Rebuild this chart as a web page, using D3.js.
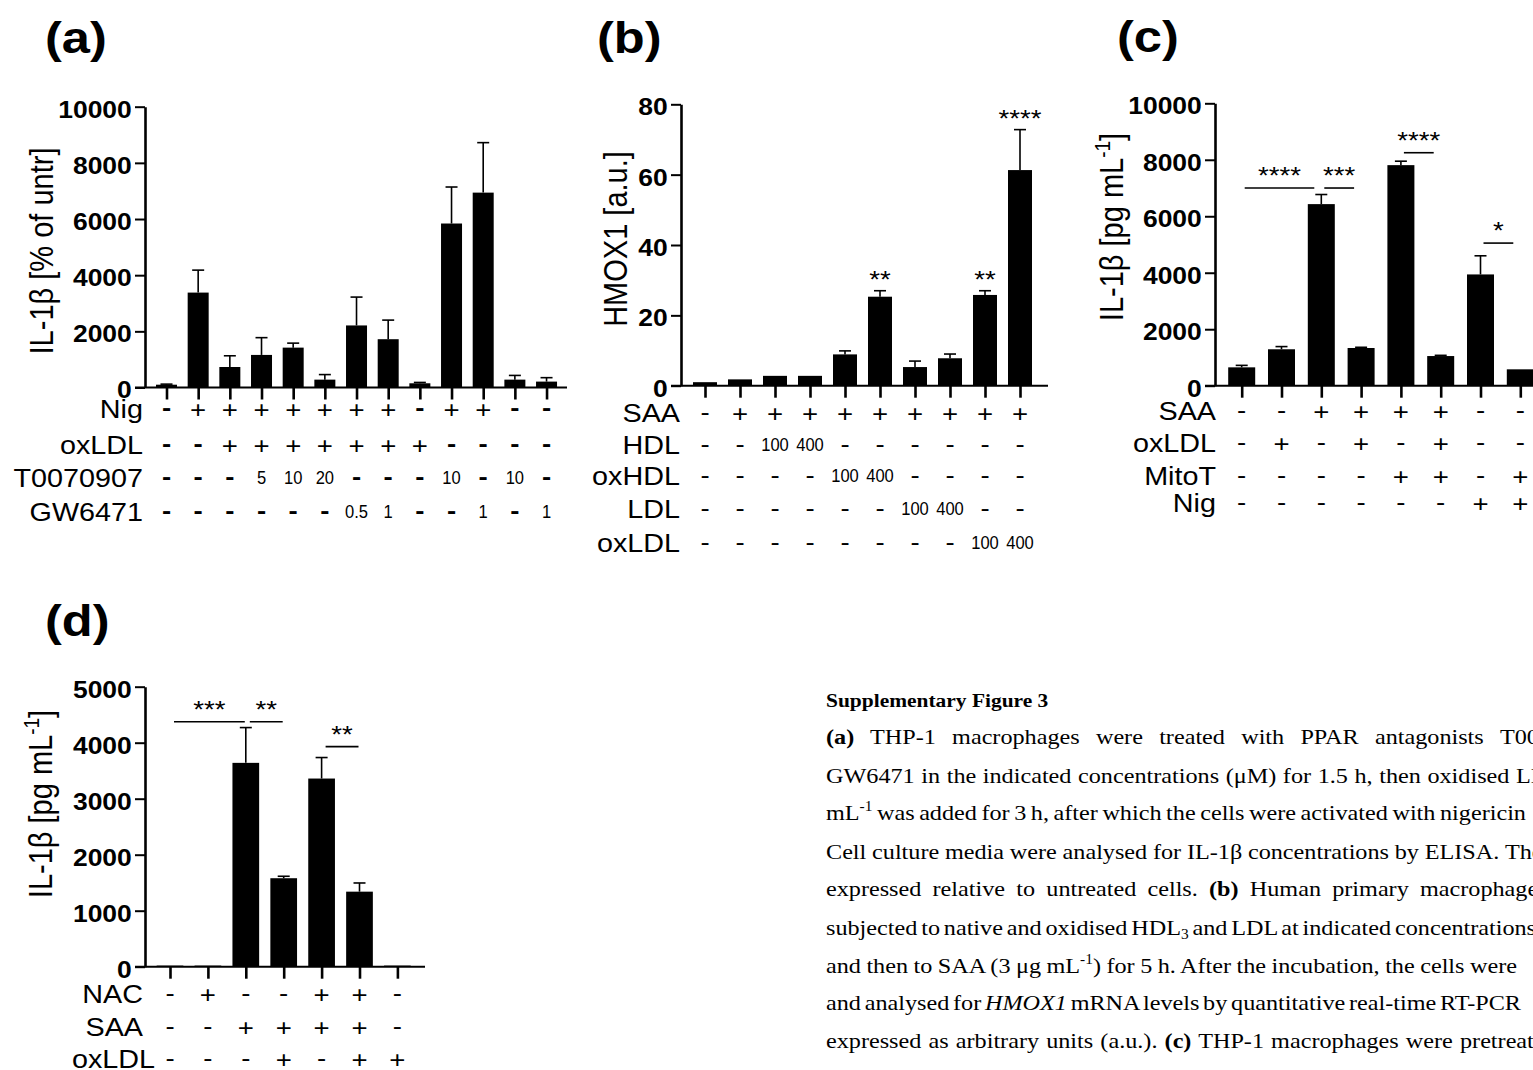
<!DOCTYPE html>
<html>
<head>
<meta charset="utf-8">
<script src="https://cdn.jsdelivr.net/npm/d3@7"></script>
<style>
  html, body { margin: 0; padding: 0; background: #fff; }
  svg { display: block; }
  text { white-space: pre; }
</style>
</head>
<body>
<svg id="fig" width="1533" height="1070"></svg>
<script>
/* global d3 */

// (a) IL-1b, % of untreated
const aMean = [100, 3380, 730, 1160, 1420, 280, 2210, 1720, 150, 5840, 6940, 280, 210]
const aErr = [20, 800, 400, 615, 160, 180, 1010, 680, 30, 1300, 1780, 150, 140]
const aTicks = [0, 2000, 4000, 6000, 8000, 10000]
const aRowNames = ['Nig', 'oxLDL', 'T0070907', 'GW6471']
const aRowMarks = [
  ['-', '+', '+', '+', '+', '+', '+', '+', '-', '+', '+', '-', '-'],
  ['-', '-', '+', '+', '+', '+', '+', '+', '+', '-', '-', '-', '-'],
  ['-', '-', '-', '5', '10', '20', '-', '-', '-', '10', '-', '10', '-'],
  ['-', '-', '-', '-', '-', '-', '0.5', '1', '-', '-', '1', '-', '1']
]

// (b) HMOX1 a.u.
const bMean = [1, 1.8, 2.8, 2.8, 8.9, 25.3, 5.3, 7.8, 25.8, 61.3]
const bErr = [0, 0, 0, 0, 1.0, 1.7, 1.7, 1.2, 1.2, 11.5]
const bTicks = [0, 20, 40, 60, 80]
const bRowNames = ['SAA', 'HDL', 'oxHDL', 'LDL', 'oxLDL']
const bRowMarks = [
  ['-', '+', '+', '+', '+', '+', '+', '+', '+', '+'],
  ['-', '-', '100', '400', '-', '-', '-', '-', '-', '-'],
  ['-', '-', '-', '-', '100', '400', '-', '-', '-', '-'],
  ['-', '-', '-', '-', '-', '-', '100', '400', '-', '-'],
  ['-', '-', '-', '-', '-', '-', '-', '-', '100', '400']
]
const bStars = [{ bar: 5, label: '**' }, { bar: 8, label: '**' }, { bar: 9, label: '****' }]

// (c) IL-1b pg/mL
const cMean = [650, 1290, 6430, 1335, 7810, 1050, 3940, 580]
const cErr = [70, 95, 340, 25, 140, 25, 660, 0]
const cTicks = [0, 2000, 4000, 6000, 8000, 10000]
const cRowNames = ['SAA', 'oxLDL', 'MitoT', 'Nig']
const cRowMarks = [
  ['-', '-', '+', '+', '+', '+', '-', '-'],
  ['-', '+', '-', '+', '-', '+', '-', '-'],
  ['-', '-', '-', '-', '+', '+', '-', '+'],
  ['-', '-', '-', '-', '-', '-', '+', '+']
]
const cSig = [
  { from: 0, to: 2, at: 7000, label: '****' },
  { from: 2, to: 3, at: 7000, label: '***' },
  { from: 4, to: 5, at: 8250, label: '****' },
  { from: 6, to: 7, at: 5050, label: '*' }
]

// (d) IL-1b pg/mL
const dMean = [20, 20, 3640, 1580, 3360, 1340, 20]
const dErr = [0, 0, 630, 35, 375, 155, 0]
const dTicks = [0, 1000, 2000, 3000, 4000, 5000]
const dRowNames = ['NAC', 'SAA', 'oxLDL']
const dRowMarks = [
  ['-', '+', '-', '-', '+', '+', '-'],
  ['-', '-', '+', '+', '+', '+', '-'],
  ['-', '-', '-', '+', '-', '+', '+']
]
const dSig = [
  { from: 0, to: 2, at: 4375, label: '***' },
  { from: 2, to: 3, at: 4375, label: '**' },
  { from: 4, to: 5, at: 3930, label: '**' }
]

const SANS = "'Liberation Sans', Arial, sans-serif"
const SERIF = "'Liberation Serif', 'Times New Roman', serif"
const SX = 1.15 // the figure is a bit stretched sideways

const svg = d3.select('#fig')
svg.append('rect').attr('width', 1533).attr('height', 1070).attr('fill', '#fff')

function label (g, x, y, str, o) {
  o = o || {}
  return g.append('text')
    .attr('transform', `translate(${x},${y}) scale(${o.sx || SX},1)`)
    .attr('text-anchor', o.anchor || 'middle')
    .style('font-family', SANS)
    .style('font-size', (o.size || 24) + 'px')
    .style('font-weight', o.bold ? 'bold' : 'normal')
    .attr('fill', '#000')
    .text(str)
}

const panels = [
  {
    mean: aMean, err: aErr, ticks: aTicks, yMax: 10000, rowNames: aRowNames, rowMarks: aRowMarks,
    boldDash: true, title: [['IL-1β [% of untr]']], letter: '(a)', letterX: 45, letterY: 53,
    axisX: 145, yTop: 106.7, y0: 387.5, x0: 166.5, step: 31.67, xEnd: 567, bw: 21,
    rowY: [409, 445, 478, 512], labelX: 143, titleX: 53, titleY: 251
  },
  {
    mean: bMean, err: bErr, ticks: bTicks, yMax: 80, rowNames: bRowNames, rowMarks: bRowMarks,
    stars: bStars, title: [['HMOX1 [a.u.]']], letter: '(b)', letterX: 597, letterY: 53,
    axisX: 681, yTop: 104.3, y0: 385.7, x0: 705, step: 35, xEnd: 1048, bw: 24,
    rowY: [413, 444.5, 475.5, 508.5, 543], labelX: 680, titleX: 627, titleY: 239
  },
  {
    mean: cMean, err: cErr, ticks: cTicks, yMax: 10000, rowNames: cRowNames, rowMarks: cRowMarks,
    sig: cSig, sigIn: [3, 7], title: [['IL-1β [pg mL'], ['-1', 'sup'], [']']], letter: '(c)', letterX: 1117, letterY: 52,
    axisX: 1215, yTop: 103.3, y0: 385.7, x0: 1241.7, step: 39.8, xEnd: 1560, bw: 27,
    rowY: [411, 443, 476, 503], labelX: 1216, titleX: 1123, titleY: 227
  },
  {
    mean: dMean, err: dErr, ticks: dTicks, yMax: 5000, rowNames: dRowNames, rowMarks: dRowMarks,
    sig: dSig, sigIn: [4, 1], title: [['IL-1β [pg mL'], ['-1', 'sup'], [']']], letter: '(d)', letterX: 45, letterY: 636,
    axisX: 145, yTop: 686.7, y0: 966.7, x0: 170, step: 37.9, xEnd: 425, bw: 26.7,
    rowY: [994, 1027, 1059], rowDx: [0, 0, 12], labelX: 143, titleX: 52, titleY: 804
  }
]

function addSegs (t, segs, big, small) {
  let shift = 0
  segs.forEach(s => {
    const ts = t.append('tspan').text(s[0])
    let want = 0
    if (s[1] === 'b') ts.style('font-weight', 'bold')
    if (s[1] === 'i') ts.style('font-style', 'italic')
    if (s[1] === 'sup') { ts.style('font-size', small + 'px'); want = -big * 0.4 }
    if (s[1] === 'sub') { ts.style('font-size', small + 'px'); want = big * 0.2 }
    if (want !== shift) ts.attr('dy', want - shift)
    shift = want
  })
  return t
}

function drawPanel (p) {
  const g = svg.append('g')
  const n = p.mean.length
  const x = d3.scalePoint().domain(d3.range(n)).range([p.x0, p.x0 + p.step * (n - 1)])
  const y = d3.scaleLinear().domain([0, p.yMax]).range([p.y0, p.yTop])

  g.selectAll('rect.bar').data(p.mean).join('rect')
    .attr('class', 'bar')
    .attr('x', (d, i) => x(i) - p.bw / 2)
    .attr('width', p.bw)
    .attr('y', d => y(d))
    .attr('height', d => y(0) - y(d))
    .attr('fill', '#000')

  // error bars, upper half only
  const eb = g.selectAll('g.err')
    .data(p.mean.map((m, i) => ({ i, m, e: p.err[i] })).filter(d => d.e > 0))
    .join('g').attr('class', 'err')
  eb.append('line')
    .attr('x1', d => x(d.i)).attr('x2', d => x(d.i))
    .attr('y1', d => y(d.m)).attr('y2', d => y(d.m + d.e))
  eb.append('line')
    .attr('x1', d => x(d.i) - 6).attr('x2', d => x(d.i) + 6)
    .attr('y1', d => y(d.m + d.e)).attr('y2', d => y(d.m + d.e))
  eb.selectAll('line').attr('stroke', '#000').attr('stroke-width', 1.6)

  const ya = g.append('g')
    .attr('transform', `translate(${p.axisX},0)`)
    .call(d3.axisLeft(y).tickValues(p.ticks).tickSize(10).tickSizeOuter(0)
      .tickPadding(1.5).tickFormat(d3.format('d')))
  ya.select('.domain').attr('stroke', '#000').attr('stroke-width', 2.6)
  ya.selectAll('.tick line').attr('stroke', '#000').attr('stroke-width', 2)
  ya.selectAll('.tick text')
    .attr('transform', `scale(${SX},1)`)
    .attr('dy', '0.45em')
    .attr('fill', '#000')
    .style('font-family', SANS)
    .style('font-size', '23px')
    .style('font-weight', 'bold')

  const xa = g.append('g')
    .attr('transform', `translate(0,${p.y0})`)
    .call(d3.axisBottom(x).tickSize(12).tickSizeOuter(0).tickFormat(''))
  xa.select('.domain').attr('d', `M${p.axisX - 10},0H${p.xEnd}`)
    .attr('stroke', '#000').attr('stroke-width', 2)
  xa.selectAll('.tick line').attr('stroke', '#000').attr('stroke-width', 2.6)

  // treatment table under the axis
  p.rowNames.forEach((name, r) => {
    const ry = p.rowY[r]
    label(g, p.labelX + (p.rowDx ? p.rowDx[r] : 0), ry + 9, name, { anchor: 'end', size: 25 })
    p.rowMarks[r].forEach((m, i) => {
      if (m === '+') label(g, x(i), ry + 8.5, m)
      else if (m === '-') label(g, x(i), ry + 7, m, { bold: p.boldDash })
      else label(g, x(i), ry + 6.4, m, { size: 18, sx: 0.92 })
    })
  })

  ;(p.stars || []).forEach(s => {
    const top = y(p.mean[s.bar] + p.err[s.bar])
    label(g, x(s.bar), top - 16 + 13.5, s.label)
  })

  ;(p.sig || []).forEach(s => {
    const yy = y(s.at)
    const x1 = x(s.from) + p.sigIn[0]
    const x2 = x(s.to) - p.sigIn[1]
    g.append('line').attr('x1', x1).attr('x2', x2).attr('y1', yy).attr('y2', yy)
      .attr('stroke', '#000').attr('stroke-width', 1.6)
    label(g, (x1 + x2) / 2, yy - 17.5 + 13.5, s.label)
  })

  const tt = g.append('text')
    .attr('transform', `translate(${p.titleX},${p.titleY}) scale(${SX},1) rotate(-90)`)
    .attr('text-anchor', 'middle')
    .style('font-family', SANS)
    .style('font-size', '29px')
    .attr('fill', '#000')
  addSegs(tt, p.title, 29, 19)

  label(svg, p.letterX, p.letterY, p.letter, { anchor: 'start', size: 44, bold: true })
}

panels.forEach(drawPanel)

// caption
const capX = 826
const CAP_SX = 1.1
const capTitle = 'Supplementary Figure 3'
const capLines = [
  { y: 744, at: 1500, pre: [['(a)', 'b'], [' THP-1 macrophages were treated with PPAR antagonists ']], post: [['T0070907 and']] },
  { y: 783, at: 1516, pre: [['GW6471 in the indicated concentrations (μM) for 1.5 h, then oxidised ']], post: [['LDL']] },
  { y: 820, at: 1440, pre: [['mL'], ['-1', 'sup'], [' was added for 3 h, after which the cells were activated with ']], post: [['nigericin']] },
  { y: 859, at: 1505, pre: [['Cell culture media were analysed for IL-1β concentrations by ELISA. ']], post: [['The']] },
  { y: 896, at: 1420, pre: [['expressed relative to untreated cells. '], ['(b)', 'b'], [' Human primary ']], post: [['macrophages']] },
  { y: 935, at: 1395, pre: [['subjected to native and oxidised HDL'], ['3', 'sub'], [' and LDL at indicated ']], post: [['concentrations']] },
  { y: 973, at: 1470, pre: [['and then to SAA (3 μg mL'], ['-1', 'sup'], [') for 5 h. After the incubation, the cells ']], post: [['were']] },
  { y: 1010, at: 1440, pre: [['and analysed for '], ['HMOX1', 'i'], [' mRNA levels by quantitative real-time ']], post: [['RT-PCR']] },
  { y: 1048, at: 1460, pre: [['expressed as arbitrary units (a.u.). '], ['(c)', 'b'], [' THP-1 macrophages were ']], post: [['pretreated']] }
]

svg.append('text')
  .attr('transform', `translate(${capX},707) scale(${CAP_SX},1)`)
  .style('font-family', SERIF).style('font-size', '19.5px').style('font-weight', 'bold')
  .attr('fill', '#000')
  .text(capTitle)

capLines.forEach(l => {
  const t = svg.append('text')
    .attr('transform', `translate(${capX},${l.y}) scale(${CAP_SX},1)`)
    .style('font-family', SERIF).style('font-size', '22px')
    .attr('fill', '#000')
  addSegs(t, l.pre, 22, 14)
  const w = t.node().getComputedTextLength()
  const nSp = l.pre.map(s => s[0]).join('').split(' ').length - 1
  const ws = ((l.at - capX) / CAP_SX - w) / nSp
  addSegs(t, l.post, 22, 14)
  t.style('word-spacing', ws + 'px')
})
</script>
</body>
</html>
